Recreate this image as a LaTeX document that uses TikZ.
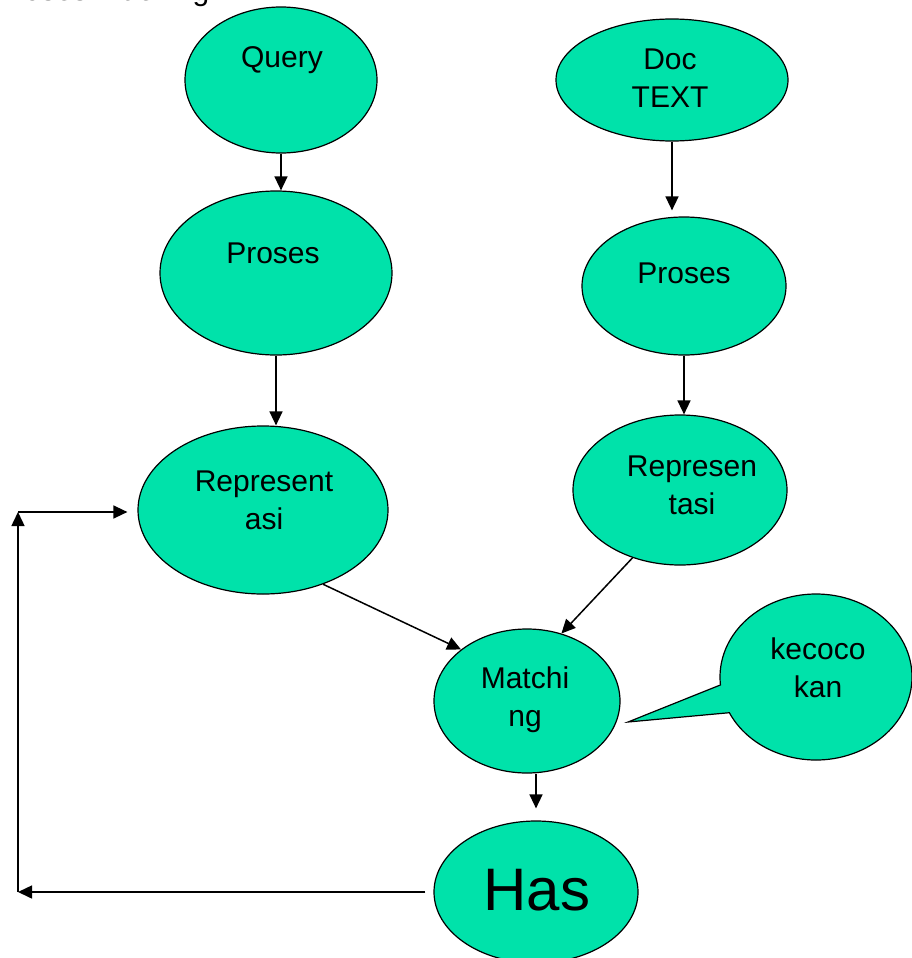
\documentclass[tikz,border=0pt]{standalone}
\usepackage{fontspec}
\setmainfont{Liberation Sans}
\usetikzlibrary{shapes.geometric,shapes.callouts,arrows.meta}
\definecolor{nodeColor}{RGB}{0, 226, 170}

\begin{document}
\begin{tikzpicture}[
    x=1pt, y=-1pt,
    every node/.style={font=\fontsize{30}{38}\selectfont},
    bubble/.style={ellipse, draw, line width=1.2pt, fill=nodeColor, inner sep=0pt},
    bubble label/.style={align=center, inner sep=0pt},
    flow/.style={-{Triangle[length=14pt, width=13pt]}, line width=1.5pt}
]
    \useasboundingbox (0,0) rectangle (912,958);

    \node [anchor=base west, inner sep=0pt] (title) at (-6,1) {Proses Indexing};

    % left column
    \node [bubble, minimum width=192pt, minimum height=146pt] (query)   at (281,80)  {};
    \node [bubble label] (queryT) at (282,60) {Query};

    \node [bubble, minimum width=232pt, minimum height=164pt] (prosesL) at (276,273) {};
    \node [bubble label] (prosesLT) at (273,253) {Proses};

    \node [bubble, minimum width=250pt, minimum height=168pt] (repL)    at (263,510) {};
    \node [bubble label] (repLT) at (264,500) {Represent\\asi};

    % right column
    \node [bubble, minimum width=232pt, minimum height=122pt] (doc)     at (672,80)  {};
    \node [bubble label] (docT) at (670,78) {Doc\\TEXT};

    \node [bubble, minimum width=204pt, minimum height=138pt] (prosesR) at (684,286) {};
    \node [bubble label] (prosesRT) at (684,273) {Proses};

    \node [bubble, minimum width=214pt, minimum height=150pt] (repR)    at (680,490) {};
    \node [bubble label] (repRT) at (692,485) {Represen\\tasi};

    % bottom
    \node [bubble, minimum width=186pt, minimum height=144pt] (match)   at (527,701) {};
    \node [bubble label] (matchT) at (525,700) {Matchi\\ng};

    \node [bubble, ellipse callout, callout absolute pointer={(628,722)}, callout pointer arc=20,
           minimum width=192pt, minimum height=166pt] (kec) at (816,677) {};
    \node [bubble label] (kecT) at (818,668) {kecoco\\kan};

    \node [bubble, minimum width=204pt, minimum height=142pt] (has)     at (536,892) {};
    \node [bubble label, font=\fontsize{60}{60}\selectfont] (hasT) at (537,890) {Has};

    \draw [flow] (query.south) -- (query.south |- prosesL.north);
    \draw [flow, shorten >=6pt] (doc.south) -- (doc.south |- prosesR.north);
    \draw [flow] (prosesL.south) -- (prosesL.south |- repL.north);
    \draw [flow] (prosesR.south) -- (prosesR.south |- repR.north);
    \draw [flow] (repL.-51) -- (match.142);
    \draw [flow] (repR.-125) -- (match.63);
    \draw [flow, shorten >=12pt] (has.north |- match.south) -- (has.north);

    % feedback loop
    \coordinate (bl) at (18,892);
    \coordinate (tl) at (18,512);
    \draw [flow, shorten <=8pt] (has.west) -- (bl);
    \draw [flow] (bl) -- (tl);
    \draw [flow, shorten >=10pt] (tl) -- (tl -| repL.west);
\end{tikzpicture}
\end{document}
